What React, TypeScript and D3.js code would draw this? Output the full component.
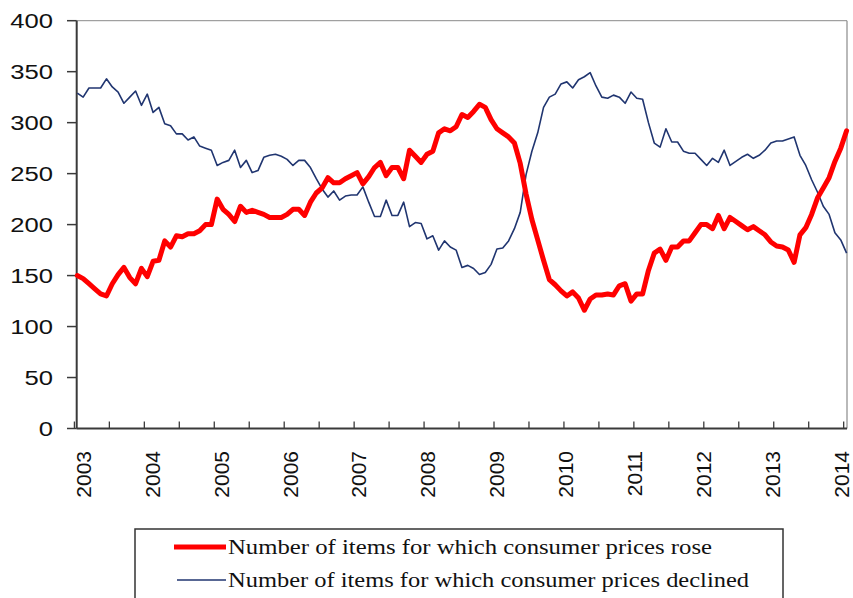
import React from 'react';
import * as d3 from 'd3';

const yearLabels = ['2003', '2004', '2005', '2006', '2007', '2008', '2009', '2010', '2011', '2012', '2013', '2014'];
const yTicks = [0, 50, 100, 150, 200, 250, 300, 350, 400];

// Monthly, Jan 2003 .. Jan 2014
const rose = [
  150, 147, 142, 137, 132, 130, 142, 151, 158, 148,
  142, 157, 149, 164, 165, 184, 178, 189, 188, 191,
  191, 194, 200, 200, 225, 215, 210, 203, 218, 212,
  214, 212, 210, 207, 207, 207, 210, 215, 215, 209,
  222, 231, 236, 246, 241, 241, 245, 248, 251, 240,
  247, 256, 261, 248, 256, 256, 245, 273, 267, 261,
  269, 272, 290, 294, 292, 296, 308, 305, 311, 318,
  315, 303, 294, 290, 286, 280, 260, 230, 205, 185,
  165, 146, 141, 135, 130, 134, 128, 116, 127, 131,
  131, 132, 131, 140, 142, 125, 132, 132, 155, 172,
  176, 165, 178, 178, 184, 184, 192, 200, 200, 196,
  209, 196, 207, 203, 199, 195, 198, 194, 190, 183,
  179, 178, 175, 163, 190, 197, 210, 226, 236, 246,
  262, 275, 292,
];

const declined = [
  329, 325, 334, 334, 334, 343, 335, 330, 319, 325,
  331, 317, 328, 310, 315, 299, 297, 289, 289, 283,
  286, 277, 275, 273, 258, 261, 263, 273, 256, 263,
  251, 253, 266, 268, 269, 267, 264, 258, 263, 263,
  256, 245, 235, 227, 233, 224, 228, 229, 229, 237,
  222, 208, 208, 224, 209, 209, 222, 198, 202, 201,
  186, 189, 175, 184, 178, 175, 158, 160, 157, 151,
  153, 161, 176, 177, 184, 196, 212, 249, 272, 290,
  315, 325, 328, 338, 340, 334, 342, 345, 349, 336,
  325, 324, 327, 325, 319, 330, 324, 323, 300, 280,
  276, 294, 281, 281, 272, 270, 270, 264, 258, 265,
  261, 273, 258, 262, 266, 269, 265, 268, 273, 280,
  282, 282, 284, 286, 268, 258, 244, 232, 218, 210,
  192, 185, 172,
];

const legendItems = [
  { label: 'Number of items  for which  consumer prices rose', color: '#ff0000', width: 5, len: 484 },
  { label: 'Number of items  for which  consumer prices declined', color: '#203570', width: 1.6, len: 521 },
];

export default function App() {
  const W = 853;
  const H = 598;
  const axisLeft = 76.7;
  const plotRight = 847;
  const plotTop = 20.7;
  const plotBottom = 428.5;

  const idx = d3.range(rose.length);
  const x = d3.scaleBand<number>().domain(idx).range([74.4, 849.5]).paddingInner(0).paddingOuter(0);
  const cx = (i: number) => (x(i) as number) + x.bandwidth() / 2;
  const y = d3.scaleLinear().domain([0, 400]).range([plotBottom, plotTop]);

  const line = d3
    .line<number>()
    .x((_, i) => cx(i))
    .y((d) => y(d));

  const tickIdx = idx.filter((i) => i % 6 === 0);
  const axisColor = '#3a3a3a';
  const sans = '"Liberation Sans", Arial, sans-serif';
  const serif = '"Liberation Serif", "Times New Roman", serif';

  // label placement: evenly spread between first and last year ticks, nudged right
  const labelX = d3
    .scaleLinear()
    .domain([0, yearLabels.length - 1])
    .range([(x(0) as number) + 9, (x(132) as number) - 2]);

  return (
    <svg
      width={W}
      height={H}
      viewBox={`0 0 ${W} ${H}`}
      style={{ position: 'absolute', left: 0, top: 0, background: '#fff' }}
    >
      <rect x={0} y={0} width={W} height={H} fill="#fff" />
      {/* plot frame (top & right) */}
      <line x1={axisLeft} x2={plotRight} y1={plotTop} y2={plotTop} stroke="#8a8a8a" strokeWidth={1} />
      <line x1={plotRight} x2={plotRight} y1={plotTop} y2={plotBottom} stroke="#8a8a8a" strokeWidth={1.2} />

      {/* y ticks & labels */}
      {yTicks.map((t) => (
        <g key={t}>
          <line x1={67} x2={axisLeft} y1={y(t)} y2={y(t)} stroke={axisColor} strokeWidth={1.5} />
          <text
            transform={`translate(53,${y(t)}) scale(1.25,1)`}
            textAnchor="end"
            dy="0.36em"
            fontFamily={sans}
            fontSize={20.5}
            fill="#111"
          >
            {t}
          </text>
        </g>
      ))}

      {/* x ticks */}
      {tickIdx.map((i) => (
        <line
          key={i}
          x1={x(i) as number}
          x2={x(i) as number}
          y1={plotBottom}
          y2={plotBottom - 7}
          stroke={axisColor}
          strokeWidth={1.3}
        />
      ))}
      {yearLabels.map((lab, k) => (
        <text
          key={lab}
          transform={`translate(${labelX(k)},451) rotate(-90)`}
          textAnchor="end"
          dy="0.35em"
          fontFamily={sans}
          fontSize={21}
          fill="#111"
        >
          {lab}
        </text>
      ))}

      {/* axes */}
      <line x1={axisLeft} x2={axisLeft} y1={plotTop} y2={plotBottom} stroke={axisColor} strokeWidth={2} />
      <line x1={axisLeft} x2={plotRight} y1={plotBottom} y2={plotBottom} stroke={axisColor} strokeWidth={2} />

      {/* series */}
      <path d={line(declined) || ''} fill="none" stroke="#203570" strokeWidth={1.6} strokeLinejoin="round" />
      <path d={line(rose) || ''} fill="none" stroke="#ff0000" strokeWidth={5} strokeLinejoin="round" strokeLinecap="round" />

      {/* legend */}
      <rect x={135} y={529} width={648} height={90} fill="#fff" stroke="#333" strokeWidth={1.5} />
      {legendItems.map((it, k) => {
        const ly = 547 + k * 33;
        return (
          <g key={k}>
            <line x1={k === 0 ? 174 : 177} x2={226} y1={ly} y2={ly} stroke={it.color} strokeWidth={it.width} />
            <text
              x={228}
              y={ly}
              dy="0.33em"
              fontFamily={serif}
              fontSize={20}
              fill="#111"
              textLength={it.len}
              lengthAdjust="spacingAndGlyphs"
            >
              {it.label}
            </text>
          </g>
        );
      })}
    </svg>
  );
}
